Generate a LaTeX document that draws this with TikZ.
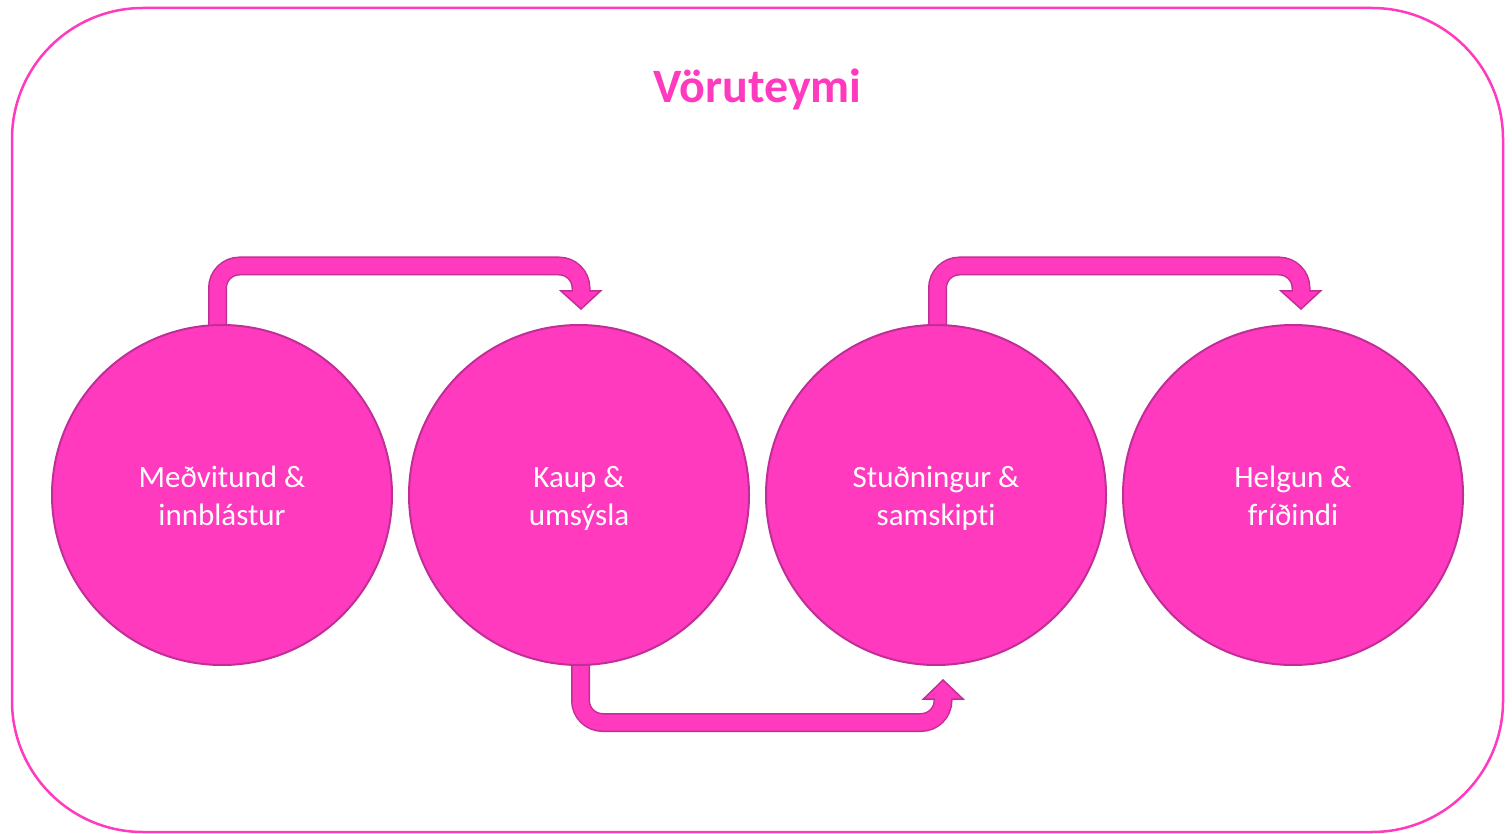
\documentclass[tikz,border=0pt]{standalone}
\usepackage{fontspec}
\setmainfont{Carlito}[Ligatures=NoCommon]
\definecolor{pinkfill}{HTML}{FF3ABE}
\definecolor{pinkbord}{HTML}{C22E98}
\definecolor{framepink}{HTML}{FF3ABE}
\newcommand{\topstrut}{\rule{0pt}{35pt}}
\tikzset{
  stage/.style={circle, minimum size=340pt, inner sep=0pt, fill=pinkfill, draw=pinkbord, line width=2pt,
    text=white, align=center, font=\fontsize{31}{38.5}\selectfont},
  shaftborder/.style={draw=pinkbord, line width=19pt, rounded corners=22pt},
  shaftfill/.style={draw=pinkfill, line width=16pt, rounded corners=22pt},
  headstyle/.style={fill=pinkfill, draw=pinkbord, line width=1.5pt, line join=miter},
}
\begin{document}
\begin{tikzpicture}[x=1pt,y=-1pt]
\useasboundingbox (0,0) rectangle (1512,834);
\draw[framepink, line width=2.5pt, rounded corners=131pt] (12,8) rectangle (1503,832);
\node[text=framepink, font=\fontsize{48}{52}\selectfont\bfseries, anchor=base, inner sep=0pt] (title) at (757.5,103) {Vöruteymi};

% arrows (drawn before circles)
% arrow 1: c1 -> c2
\coordinate (a1s) at (217.5,335);
\coordinate (a1e) at (581,292.5);
\draw[shaftborder] (a1s) -- (217.5,266) -- (581,266) -- (581,291);
\filldraw[headstyle] (561,291) -- (600.5,291) -- (581,309) -- cycle;
\draw[shaftfill] (a1s) -- (217.5,266) -- (581,266) -- (a1e);
% arrow 2: c3 -> c4
\coordinate (a2s) at (937.5,335);
\coordinate (a2e) at (1301,292.5);
\draw[shaftborder] (a2s) -- (937.5,266) -- (1301,266) -- (1301,291);
\filldraw[headstyle] (1281,291) -- (1320.5,291) -- (1301,309) -- cycle;
\draw[shaftfill] (a2s) -- (937.5,266) -- (1301,266) -- (a2e);
% arrow 3: c2 -> c3
\coordinate (a3s) at (580.5,655);
\coordinate (a3e) at (943,697.5);
\draw[shaftborder] (a3s) -- (580.5,722.5) -- (943,722.5) -- (943,699);
\filldraw[headstyle] (923.5,699) -- (963,699) -- (943,680) -- cycle;
\draw[shaftfill] (a3s) -- (580.5,722.5) -- (943,722.5) -- (a3e);

\node[stage] (c1) at (222,495) {\topstrut Meðvitund \&\\innblástur\strut};
\node[stage] (c2) at (579,495) {\topstrut Kaup \&\\umsýsla\strut};
\node[stage] (c3) at (936,495) {\topstrut Stuðningur \&\\samskipti\strut};
\node[stage] (c4) at (1293,495) {\topstrut Helgun \&\\fríðindi\strut};
\end{tikzpicture}
\end{document}
